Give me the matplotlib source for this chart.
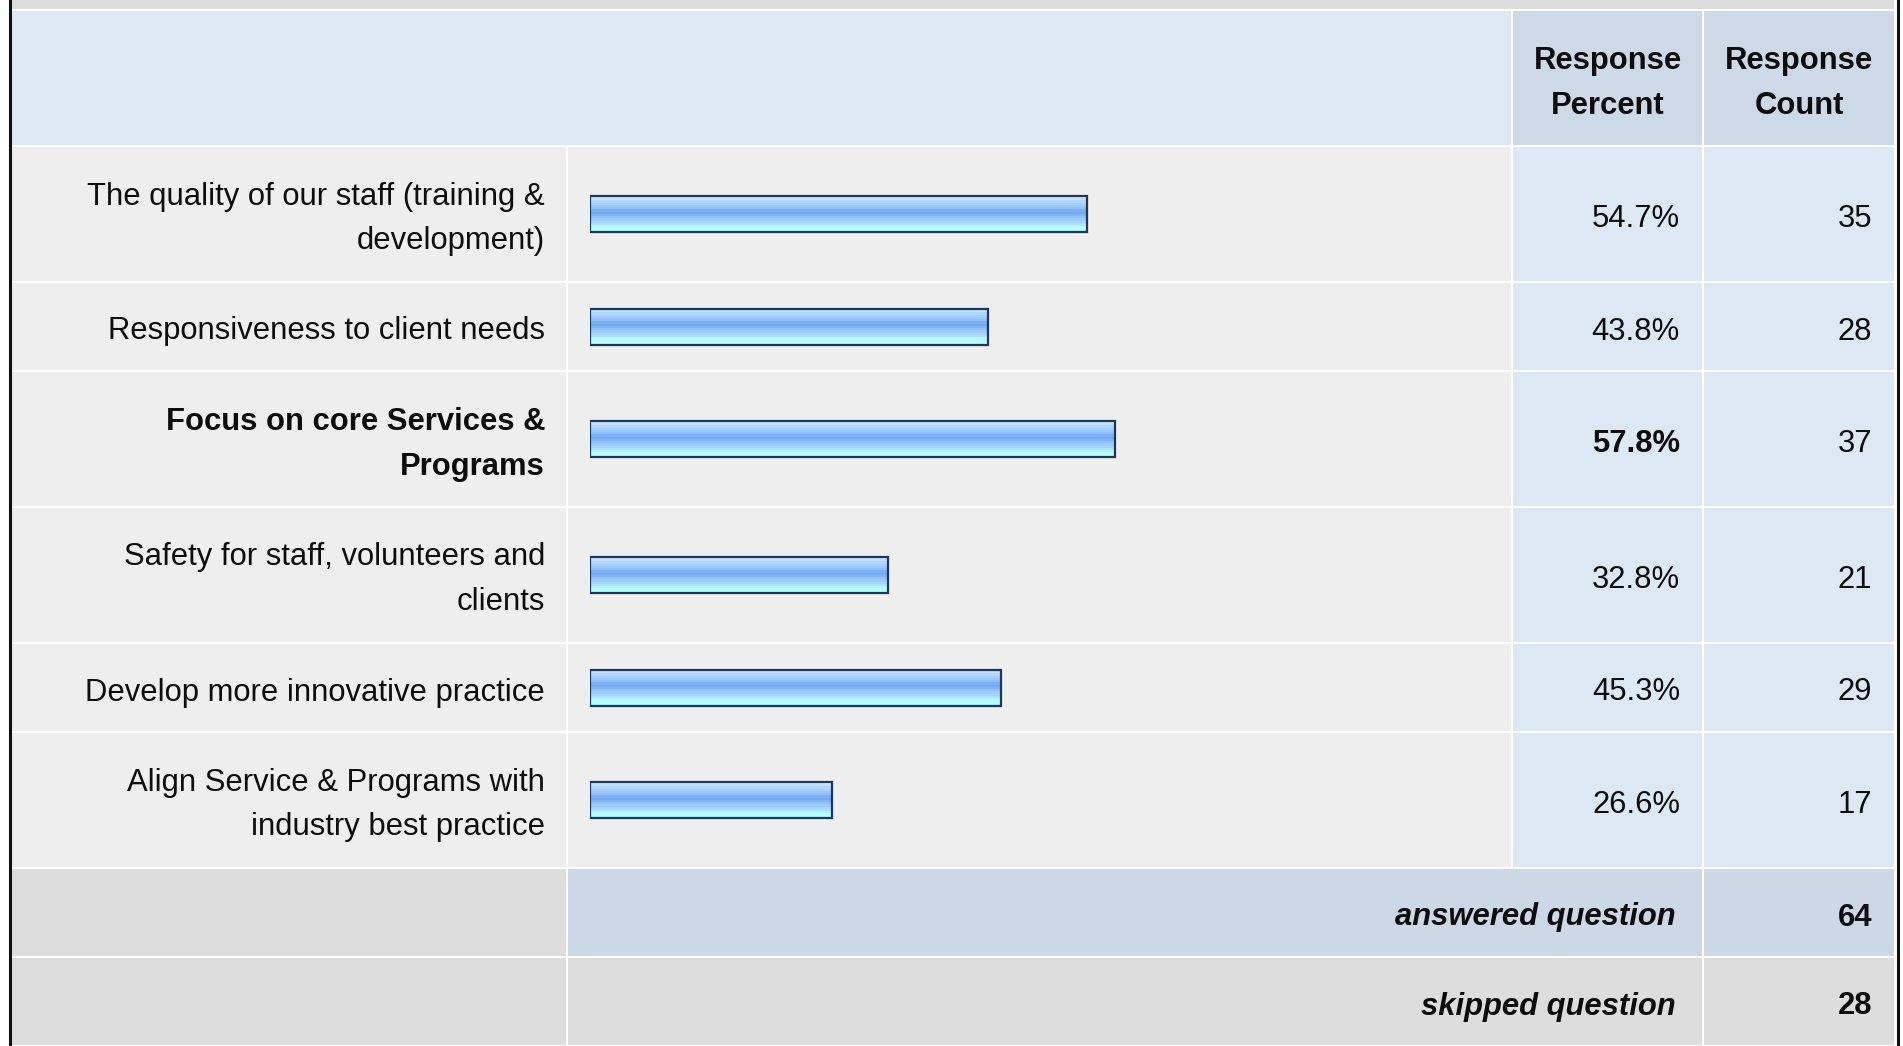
import numpy as np
import matplotlib.pyplot as plt
from matplotlib.patches import Rectangle
from matplotlib.colors import to_rgb

plt.rcParams['font.family'] = ['Liberation Sans', 'DejaVu Sans']

labels = ["The quality of our staff (training &\ndevelopment)",
          "Responsiveness to client needs",
          "Focus on core Services &\nPrograms",
          "Safety for staff, volunteers and\nclients",
          "Develop more innovative practice",
          "Align Service & Programs with\nindustry best practice"]
percent = [54.7, 43.8, 57.8, 32.8, 45.3, 26.6]
counts = [35, 28, 37, 21, 29, 17]
bold_row = 2
answered = 64
skipped = 28
header = ["Response\nPercent", "Response\nCount"]

W, H = 1903, 1046
FS = 22.3
LINE = 45
DY = 5  # text baseline nudge
txt = '#0d0d0d'

fig = plt.figure(figsize=(W / 100, H / 100), dpi=100)
ax = fig.add_axes([0, 0, 1, 1])
ax.set_xlim(0, W)
ax.set_ylim(H, 0)
ax.axis('off')

cols = [11, 567, 1512, 1703, 1895]


def cell(x0, x1, y0, y1, color):
    ax.add_patch(Rectangle((x0 + 1, y0 + 1), x1 - x0 - 2, y1 - y0 - 2,
                           facecolor=color, edgecolor='none', zorder=1))


def lines_at(x, yc, text, **kw):
    parts = text.split('\n')
    n = len(parts)
    for i, p in enumerate(parts):
        ax.text(x, yc + DY + (i - (n - 1) / 2) * LINE, p, va='center',
                fontsize=FS, color=txt, **kw)


# top strip and header
cell(cols[0], cols[4], -20, 10, '#dcdcdc')
cell(cols[0], cols[2], 10, 146, '#dde8f5')
cell(cols[2], cols[3], 10, 146, '#ccd9e6')
cell(cols[3], cols[4], 10, 146, '#ccd9e6')
lines_at((cols[2] + cols[3]) / 2, 78, header[0], ha='center', fontweight='bold')
lines_at((cols[3] + cols[4]) / 2, 78, header[1], ha='center', fontweight='bold')

# answer rows
edges = [146]
for lab in labels:
    edges.append(edges[-1] + (136 if '\n' in lab else 89))
centers = []
for i, lab in enumerate(labels):
    y0, y1 = edges[i], edges[i + 1]
    yc = (y0 + y1) / 2
    centers.append(yc)
    cell(cols[0], cols[1], y0, y1, '#eeeeee')
    cell(cols[1], cols[2], y0, y1, '#eeeeee')
    cell(cols[2], cols[3], y0, y1, '#dde8f5')
    cell(cols[3], cols[4], y0, y1, '#dde8f5')
    w = 'bold' if i == bold_row else 'normal'
    lines_at(545, yc, lab, ha='right', fontweight=w)
    lines_at(1680, yc, f"{percent[i]:.1f}%", ha='right', fontweight=w)
    lines_at(1872, yc, str(counts[i]), ha='right')

# summary rows
y0 = edges[-1]
y1 = y0 + 89
y2 = y1 + 89
cell(cols[0], cols[1], y0, y1, '#dddddd')
cell(cols[1], cols[3], y0, y1, '#ccd8e6')
cell(cols[3], cols[4], y0, y1, '#ccd8e6')
cell(cols[0], cols[1], y1, y2, '#dddddd')
cell(cols[1], cols[3], y1, y2, '#dddddd')
cell(cols[3], cols[4], y1, y2, '#dddddd')
lines_at(1676, (y0 + y1) / 2, "answered question", ha='right', fontweight='bold', fontstyle='italic')
lines_at(1872, (y0 + y1) / 2, str(answered), ha='right', fontweight='bold')
lines_at(1676, (y1 + y2) / 2, "skipped question", ha='right', fontweight='bold', fontstyle='italic')
lines_at(1872, (y1 + y2) / 2, str(skipped), ha='right', fontweight='bold')

# outer frame
ax.plot([9.5, 9.5], [0, H], color='#111111', lw=2.2, zorder=5)
ax.plot([1897.5, 1897.5], [0, H], color='#111111', lw=2.2, zorder=5)

# bars: 0-100 % spans x 590..1498
bax = fig.add_axes([590 / W, 0, 908 / W, 1])
bax.set_xlim(0, 100)
bax.set_ylim(H, 0)
bax.axis('off')
bax.patch.set_visible(False)

grad = ['#d0eaff', '#c0e2ff', '#b0d8ff', '#a6d0ff', '#9cc8ff', '#90c0fc',
        '#7cb0f4', '#76aaf0', '#80b4f6', '#90c2fc', '#9ccbff', '#a6d6ff',
        '#aee0ff', '#b2f4ff', '#b4ffff', '#b4ffff']
img = np.array([to_rgb(c) for c in grad])[:, None, :]

bars = bax.barh(centers, percent, height=36, left=0, color='#90c0fc',
                edgecolor='none', zorder=1)
for b in bars:
    x, y, bw, bh = b.get_x(), b.get_y(), b.get_width(), b.get_height()
    im = bax.imshow(img, extent=(x, x + bw, y + bh, y), aspect='auto',
                    interpolation='nearest', zorder=2)
    im.set_clip_path(b)
bax.barh(centers, percent, height=36, left=0, facecolor='none',
         edgecolor='#1e3658', linewidth=1.6, zorder=3)
bax.set_xlim(0, 100)
bax.set_ylim(H, 0)

fig.savefig('out.png', dpi=100, facecolor='white')
